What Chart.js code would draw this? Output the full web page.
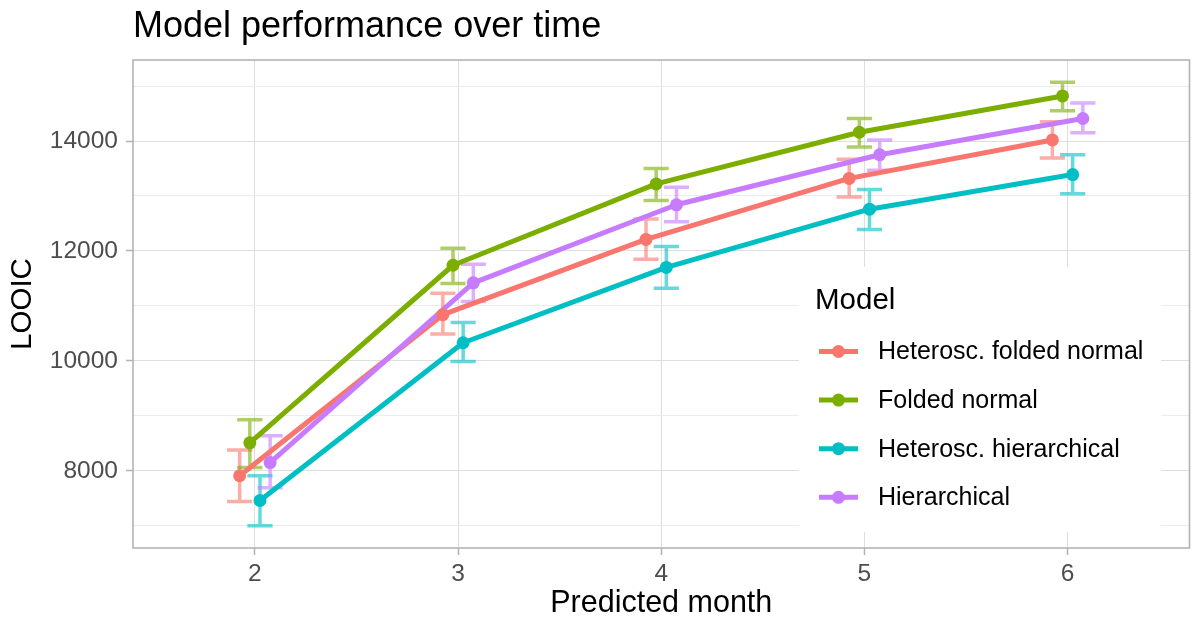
<!DOCTYPE html>
<html><head><meta charset="utf-8">
<script src="https://cdn.jsdelivr.net/npm/chart.js@4/dist/chart.umd.min.js"></script>
<style>html,body{margin:0;padding:0;background:#fff;}</style>
</head><body>
<canvas id="c" width="1196" height="619"></canvas>
<script>
// ---------- data ----------
const months = [2, 3, 4, 5, 6];
const xTickLabels = ['2', '3', '4', '5', '6'];
const yMajorTicks = [8000, 10000, 12000, 14000];
const yMinorTicks = [7000, 9000, 11000, 13000, 15000];
const yTickLabels = ['8000', '10000', '12000', '14000'];
const seriesNames = ['Heterosc. folded normal', 'Folded normal', 'Heterosc. hierarchical', 'Hierarchical'];

const hetFoldedMean = [7910, 10840, 12210, 13320, 14020];
const hetFoldedLo   = [7440, 10490, 11850, 12980, 13690];
const hetFoldedHi   = [8380, 11230, 12580, 13670, 14350];

const foldedMean = [8510, 11740, 13220, 14160, 14820];
const foldedLo   = [8060, 11410, 12920, 13890, 14550];
const foldedHi   = [8930, 12050, 13500, 14410, 15070];

const hetHierMean = [7460, 10330, 11700, 12760, 13390];
const hetHierLo   = [7000, 9990, 11320, 12390, 13040];
const hetHierHi   = [7910, 10700, 12080, 13120, 13750];

const hierMean = [8150, 11420, 12840, 13750, 14410];
const hierLo   = [7690, 11080, 12530, 13470, 14150];
const hierHi   = [8640, 11760, 13160, 14020, 14690];

// ---------- style ----------
const FONT = '"Liberation Sans", Arial, Helvetica, sans-serif';
const colors = ['#F8766D', '#7CAE00', '#00BFC4', '#C77CFF'];
const errColors = ['rgba(248,118,109,0.6)', 'rgba(124,174,0,0.6)', 'rgba(0,191,196,0.6)', 'rgba(199,124,255,0.6)'];
const dodge = [-0.075, -0.025, 0.025, 0.075];
const capHalf = 0.062;
const LINE_W = 5, POINT_R = 6.5, ERR_W = 3.5;

const series = [
  {name: seriesNames[0], mean: hetFoldedMean, lo: hetFoldedLo, hi: hetFoldedHi},
  {name: seriesNames[1], mean: foldedMean, lo: foldedLo, hi: foldedHi},
  {name: seriesNames[2], mean: hetHierMean, lo: hetHierLo, hi: hetHierHi},
  {name: seriesNames[3], mean: hierMean, lo: hierLo, hi: hierHi}
];

const isMajor = v => yMajorTicks.includes(v);

const datasets = [];
series.forEach((s, k) => {
  const pts = months.map((m, i) => ({x: m + dodge[k], y: s.mean[i]}));
  datasets.push({
    label: s.name, data: pts, borderColor: colors[k], backgroundColor: colors[k],
    borderWidth: LINE_W, pointRadius: 0, tension: 0, borderJoinStyle: 'round',
    order: 20 - k
  });
});
series.forEach((s, k) => {
  const pts = months.map((m, i) => ({x: m + dodge[k], y: s.mean[i]}));
  datasets.push({
    label: s.name + ' pts', data: pts, showLine: false,
    pointRadius: POINT_R, pointBackgroundColor: colors[k], pointBorderColor: colors[k],
    pointBorderWidth: 0, borderColor: colors[k], backgroundColor: colors[k],
    order: 10 - k
  });
});

const ggPlugin = {
  id: 'gg',
  beforeDatasetsDraw(chart) {
    const ctx = chart.ctx, xs = chart.scales.x, ys = chart.scales.y;
    ctx.save();
    series.forEach((s, k) => {
      ctx.strokeStyle = errColors[k];
      ctx.lineWidth = ERR_W;
      ctx.lineJoin = 'miter';
      months.forEach((m, i) => {
        const xc = xs.getPixelForValue(m + dodge[k]);
        const xl = xs.getPixelForValue(m + dodge[k] - capHalf);
        const xr = xs.getPixelForValue(m + dodge[k] + capHalf);
        const yl = ys.getPixelForValue(s.lo[i]);
        const yh = ys.getPixelForValue(s.hi[i]);
        ctx.beginPath();
        ctx.moveTo(xl, yh); ctx.lineTo(xr, yh);
        ctx.moveTo(xc, yh); ctx.lineTo(xc, yl);
        ctx.moveTo(xl, yl); ctx.lineTo(xr, yl);
        ctx.stroke();
      });
    });
    ctx.restore();
  },
  afterDatasetsDraw(chart) {
    const ctx = chart.ctx, a = chart.chartArea;
    ctx.save();
    ctx.strokeStyle = '#b3b3b3';
    ctx.lineWidth = 1.6;
    ctx.strokeRect(a.left, a.top, a.right - a.left, a.bottom - a.top);
    ctx.restore();
  },
  afterDraw(chart) {
    const ctx = chart.ctx, a = chart.chartArea;
    ctx.save();
    // plot title
    ctx.fillStyle = '#000';
    ctx.font = '36px ' + FONT;
    ctx.textAlign = 'left';
    ctx.textBaseline = 'alphabetic';
    ctx.fillText('Model performance over time', a.left, 37);
    // y axis title
    ctx.save();
    ctx.translate(23, (a.top + a.bottom) / 2);
    ctx.rotate(-Math.PI / 2);
    ctx.font = '29.5px ' + FONT;
    ctx.textAlign = 'center';
    ctx.textBaseline = 'middle';
    ctx.fillText('LOOIC', 0, 0);
    ctx.restore();
    // legend
    const lx = 799, ly = 267, lw = 362, lh = 265;
    ctx.fillStyle = '#fff';
    ctx.fillRect(lx, ly, lw, lh);
    ctx.fillStyle = '#000';
    ctx.font = '29.5px ' + FONT;
    ctx.textBaseline = 'alphabetic';
    ctx.fillText('Model', lx + 16, ly + 42);
    series.forEach((s, k) => {
      const y = ly + 84.5 + k * 48.6;
      ctx.strokeStyle = colors[k];
      ctx.lineWidth = LINE_W;
      ctx.lineCap = 'butt';
      ctx.beginPath(); ctx.moveTo(lx + 20, y); ctx.lineTo(lx + 59, y); ctx.stroke();
      ctx.fillStyle = colors[k];
      ctx.beginPath(); ctx.arc(lx + 39.5, y, POINT_R, 0, Math.PI * 2); ctx.fill();
      ctx.fillStyle = '#000';
      ctx.font = '25px ' + FONT;
      ctx.textBaseline = 'middle';
      ctx.fillText(s.name, lx + 79, y + 1);
    });
    ctx.restore();
  }
};

new Chart(document.getElementById('c'), {
  type: 'line',
  data: {datasets},
  plugins: [ggPlugin],
  options: {
    responsive: false,
    animation: false,
    events: [],
    layout: {padding: {top: 60, right: 6, left: 0, bottom: 0}},
    plugins: {legend: {display: false}, tooltip: {enabled: false}, title: {display: false}},
    scales: {
      x: {
        type: 'linear', min: 1.4, max: 6.6,
        afterBuildTicks: s => { s.ticks = months.map(v => ({value: v})); },
        afterFit: s => { s.height = 71; },
        ticks: {
          autoSkip: false, maxRotation: 0, padding: 5, color: '#4d4d4d',
          font: {family: FONT, size: 24.5},
          callback: (v, i) => xTickLabels[i]
        },
        grid: {color: '#dedede', lineWidth: 1, tickLength: 7, tickColor: '#b3b3b3', tickWidth: 1.5},
        border: {display: false},
        title: {display: true, text: 'Predicted month', color: '#000',
                font: {family: FONT, size: 30.5, lineHeight: 1}, padding: {top: 0, bottom: 0}}
      },
      y: {
        type: 'linear', min: 6596, max: 15474,
        afterBuildTicks: s => {
          s.ticks = yMinorTicks.concat(yMajorTicks).sort((p, q) => p - q).map(v => ({value: v}));
        },
        afterFit: s => { s.width = 133; },
        ticks: {
          autoSkip: false, padding: 8, color: '#4d4d4d',
          font: {family: FONT, size: 24.5},
          callback: v => { const j = yMajorTicks.indexOf(v); return j >= 0 ? yTickLabels[j] : ''; }
        },
        grid: {
          color: c => isMajor(c.tick.value) ? '#dedede' : '#ececec',
          lineWidth: 1,
          tickLength: 7,
          tickColor: c => isMajor(c.tick.value) ? '#b3b3b3' : 'rgba(0,0,0,0)',
          tickWidth: 1.5
        },
        border: {display: false}
      }
    }
  }
});
</script>
</body></html>
